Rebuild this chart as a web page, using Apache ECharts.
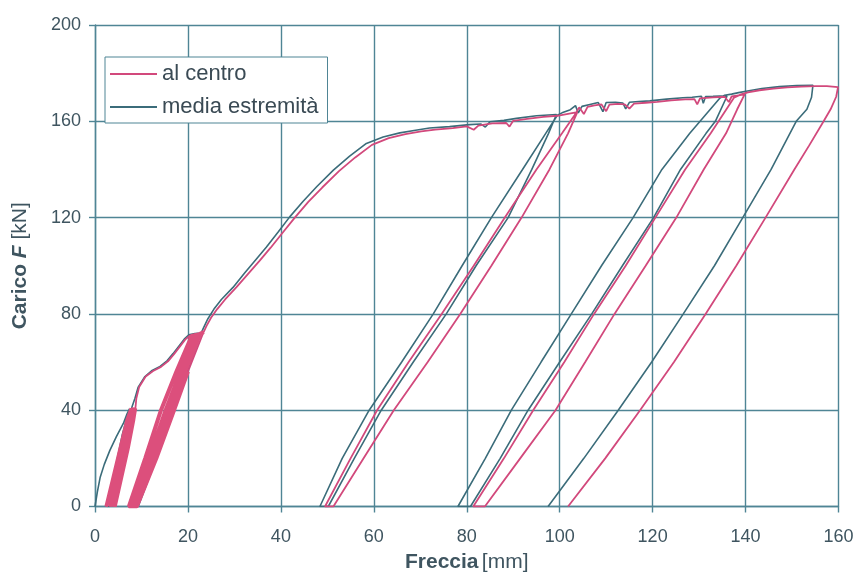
<!DOCTYPE html>
<html>
<head>
<meta charset="utf-8">
<script src="https://cdn.jsdelivr.net/npm/echarts@6/dist/echarts.min.js"></script>
<style>
html,body{margin:0;padding:0;background:#fff;}
#chart{width:861px;height:573px;}
</style>
</head>
<body>
<div id="chart"></div>
<script>
// ---- axis ticks ----
const xAxisMin = 0, xAxisMax = 160, xAxisStep = 20;
const yAxisMin = 0, yAxisMax = 200, yAxisStep = 40;

const seriesNames = ['al centro', 'media estremità'];

// ---- "media estremità" (Freccia mm, Carico kN) ----
const mediaLoad0 = [[0,0],[0.5,6],[1.1,12],[2,17.5],[3.2,23.3],[4.6,29],[6.1,34.5],[6.9,38.5],[7.4,40.5]];
const mediaCycles1 = [[5.9,30],[4.4,16],[2.6,0],[3.2,0],[4.7,12],[6.2,26],[7.6,40.5],[6.3,30],[4.8,16],[3.2,0],[3.6,0],[5.1,12],[6.5,26],[7.9,41]];
const mediaLoad1 = [[8.6,45],[9.3,49.6],[10.75,54],[12.3,56.5],[14,58.2],[15.5,60.5],[16.8,63.5],[18,66.5],[19.2,69.5],[20.2,71.3],[21.5,71.8],[22.8,72]];
const mediaCycles2 = [[20.2,58],[17.2,42],[13.6,22],[9.3,0],[8.8,0],[12.7,20],[16.2,40],[19.3,56],[22.5,71.6],[19.6,57],[16.7,42],[13.1,22],[8.8,0],[8.2,0],[12.0,20],[15.6,40],[18.8,56],[22.2,71.5],[22.9,72.2]];
const mediaLoad2 = [[23.3,74],[24.3,78],[25.6,82],[27.2,86],[29.7,91],[32.2,97],[34.6,102.5],[36.9,107.8],[39.5,114.2],[41.9,120.3],[44.8,126.8],[47.7,132.8],[51.3,139.7],[54.8,145.5],[58.4,150.8],[62,153.5],[65.6,155.2],[69,156.3],[72,157.2],[76.3,157.8],[80.6,158.6],[83,158.9],[84,157.6],[85,159.8],[88,160.4],[90.7,161.2],[95,162.3],[99.3,162.8]];
const mediaCycle3 = [[97.6,155],[94,140],[88.9,120],[82,100],[75.6,80],[68.5,60],[61.6,40],[55.8,20],[50.2,0],[48.4,0],[53.2,20],[59,40],[66,60],[72.8,80],[79,100],[85.3,120],[92,140],[97,155],[99.5,162.5]];
const mediaLoad3 = [[100.5,163.5],[102.3,164.8],[103.4,166.5],[104,163.5],[104.8,166.2],[106.5,167],[108.3,167.8],[109.3,164],[110,167.8],[112,167.9],[113.6,167.6],[114.2,165.2],[115,167.9],[117,168.2],[119.4,168.5],[123,169.2],[126.5,169.8],[128.5,170],[130.5,170.4],[130.9,167.5],[131.4,170.3],[133,170.4],[134.5,170.5],[136,170.4]];
const mediaCycle4 = [[133.5,160],[131.5,155],[126,140],[120.2,120],[113.5,100],[106.9,80],[100,60],[93.2,40],[87.2,20],[80.8,0],[78.1,0],[84,20],[89.6,40],[96,60],[102.5,80],[109,100],[115.8,120],[122,140],[128,155],[134.4,169.5]];
const mediaLoad4 = [[135.5,170.8],[137,171.3],[138.5,171.9],[140.1,172.5],[143.5,173.6],[147.3,174.4],[151,174.9],[154.5,175]];
const mediaUnload5 = [[154.2,170],[153.2,165],[150.9,160],[145.5,140],[139.4,120],[133.3,100],[126.6,80],[119.8,60],[112.6,40],[105.2,20],[97.5,0]];

// ---- "al centro" ----
const centroCycles1 = [[2.4,0],[3.9,12],[5.4,24],[6.9,36],[7.8,40.8],[6.6,30],[5.0,16],[3.2,0],[4.6,12],[6.1,24],[7.5,36],[8.2,41],[7.0,30],[5.5,16],[3.8,0],[5.2,12],[6.7,24],[8.0,36],[8.5,41],[7.4,30],[5.9,16],[4.3,0],[5.7,12],[7.1,24],[8.3,36],[8.7,40.8]];
const centroLoad1 = [[8.9,45],[9.5,49.6],[10.9,54],[12.5,56.3],[14.2,58],[15.7,60.3],[17,63.3],[18.2,66.3],[19.4,69.3],[20.4,71],[21.7,71.5],[23.2,71.7]];
const centroCycles2 = [[20.0,56],[17.0,40],[13.2,20],[9.0,0],[8.4,0],[12.3,20],[16.0,40],[19.2,56],[22.6,71.5],[19.4,56],[16.5,40],[12.8,20],[8.6,0],[7.8,0],[11.6,20],[15.2,40],[18.4,56],[21.8,71.2],[18.8,56],[15.7,40],[12.0,20],[8.0,0],[7.3,0],[10.8,20],[14.2,40],[17.5,56],[20.8,70.8],[22.5,71.6],[23.4,72.5]];
const centroLoad2 = [[24,75],[25,78.5],[26.3,82],[28,86],[30.4,91],[32.9,96.5],[35.4,102],[37.8,107.5],[40.5,114],[43,120],[45.9,126.5],[48.9,132.5],[52.5,139.3],[56,145],[59.6,150.2],[63.2,153],[66.8,154.7],[70.2,155.8],[73.2,156.5],[77,157.2],[80,157.9],[81.5,156.5],[82.5,158.2],[85.5,159.1],[88.5,159.3],[89.2,157.8],[90,160.2],[93,161],[96.5,161.8],[99.5,162.3],[101.5,163],[103.8,163.8]];
const centroCycle3 = [[101.8,155],[97.8,140],[91.8,120],[85.3,100],[78.6,80],[71.6,60],[64.3,40],[57.8,20],[51.3,0],[49.5,0],[55,20],[60.7,40],[67.5,60],[74.6,80],[81.5,100],[88.2,120],[95,140],[100.5,155],[103.2,162.5]];
const centroLoad3 = [[104.2,165.8],[105.2,163],[106,166],[107.5,166.6],[109,167],[110,164.2],[110.7,166.9],[112.5,167.2],[114,167],[115,165.3],[116,167.3],[118.5,167.7],[121,168.1],[124,168.7],[127,169.1],[129,169.2],[129.6,167],[130.2,169.5],[133,169.9],[135.5,170.2],[136.4,168],[137,170.3],[138.5,170.8],[139.8,171.2]];
const centroCycle4 = [[138.2,165],[135.8,155],[131,140],[125.1,120],[118.5,100],[111.8,80],[105.5,60],[99.1,40],[91.5,20],[83.9,0],[81.4,0],[88,20],[94.3,40],[101,60],[107.4,80],[114.2,100],[120.6,120],[127,140],[132.5,155],[137.5,169.8]];
const centroLoad4 = [[139,171.2],[140.5,172],[143,172.9],[146,173.6],[149,174.1],[152,174.4],[155,174.6],[157.5,174.6],[159.9,174.2]];
const centroUnload5 = [[159.5,170.2],[158.3,165],[156.8,160],[153.7,150],[150.5,140],[144.3,120],[138,100],[131.4,80],[124.6,60],[117.3,40],[109.8,20],[101.8,0]];

const mediaData = [].concat(mediaLoad0, mediaCycles1, mediaLoad1, mediaCycles2, mediaLoad2, mediaCycle3, mediaLoad3, mediaCycle4, mediaLoad4, mediaUnload5);
const centroData = [].concat(centroCycles1, centroLoad1, centroCycles2, centroLoad2, centroCycle3, centroLoad3, centroCycle4, centroLoad4, centroUnload5);

const gridColor = '#4f8595';
const textColor = '#3f5560';
const darkColor = '#3b6c7a';
const pinkColor = '#d2497c';
const font = 'Liberation Sans, Arial, Helvetica, sans-serif';

const chart = echarts.init(document.getElementById('chart'), null, {renderer: 'canvas'});
chart.setOption({
  backgroundColor: '#ffffff',
  animation: false,
  grid: {left: 95, right: 22.5, top: 25, bottom: 66.5, containLabel: false, outerBoundsMode: 'none'},
  legend: {
    data: seriesNames,
    orient: 'vertical',
    left: 105, top: 57,
    padding: [6, 9, 5, 5],
    itemGap: 11,
    icon: 'rect',
    itemWidth: 47, itemHeight: 2,
    backgroundColor: '#ffffff',
    borderColor: gridColor, borderWidth: 1, borderRadius: 0,
    textStyle: {fontSize: 22, color: '#3a4a54', fontFamily: font}
  },
  xAxis: {
    type: 'value', min: xAxisMin, max: xAxisMax, interval: xAxisStep,
    name: '{b|Freccia} {n|[mm]}',
    nameLocation: 'middle', nameGap: 45,
    nameTextStyle: {rich: {
      b: {fontSize: 21, fontWeight: 'bold', color: textColor, fontFamily: font},
      n: {fontSize: 21, color: textColor, fontFamily: font}
    }},
    axisLine: {show: true, lineStyle: {color: gridColor, width: 1.4}},
    axisTick: {show: true, length: 6, lineStyle: {color: gridColor, width: 1.4}},
    axisLabel: {fontSize: 18, color: textColor, fontFamily: font, margin: 22},
    splitLine: {show: true, lineStyle: {color: gridColor, width: 1.4}}
  },
  yAxis: {
    type: 'value', min: yAxisMin, max: yAxisMax, interval: yAxisStep,
    name: '{b|Carico }{i|F}{n| [kN]}',
    nameLocation: 'middle', nameGap: 64, nameRotate: 90,
    nameTextStyle: {rich: {
      b: {fontSize: 21, fontWeight: 'bold', color: textColor, fontFamily: font},
      i: {fontSize: 21, fontWeight: 'bold', fontStyle: 'italic', color: textColor, fontFamily: font},
      n: {fontSize: 21, color: textColor, fontFamily: font}
    }},
    axisLine: {show: true, lineStyle: {color: gridColor, width: 1.4}},
    axisTick: {show: true, length: 6, lineStyle: {color: gridColor, width: 1.4}},
    axisLabel: {fontSize: 18, color: textColor, fontFamily: font, margin: 14},
    splitLine: {show: true, lineStyle: {color: gridColor, width: 1.4}}
  },
  series: [
    {
      name: seriesNames[1], type: 'line', data: mediaData,
      symbol: 'none', showSymbol: false, smooth: false,
      lineStyle: {color: darkColor, width: 1.6},
      itemStyle: {color: darkColor}, z: 2
    },
    {
      name: seriesNames[0], type: 'line', data: centroData,
      symbol: 'none', showSymbol: false, smooth: false,
      lineStyle: {color: pinkColor, width: 1.8},
      itemStyle: {color: pinkColor}, z: 3
    },
    {
      name: seriesNames[0], type: 'line', data: centroCycles1,
      symbol: 'none', showSymbol: false, smooth: false,
      lineStyle: {color: '#dc4f7c', width: 3.5},
      itemStyle: {color: pinkColor}, z: 4
    },
    {
      name: seriesNames[0], type: 'line', data: centroCycles2,
      symbol: 'none', showSymbol: false, smooth: false,
      lineStyle: {color: '#dc4f7c', width: 4},
      itemStyle: {color: pinkColor}, z: 4
    }
  ]
});
</script>
</body>
</html>
